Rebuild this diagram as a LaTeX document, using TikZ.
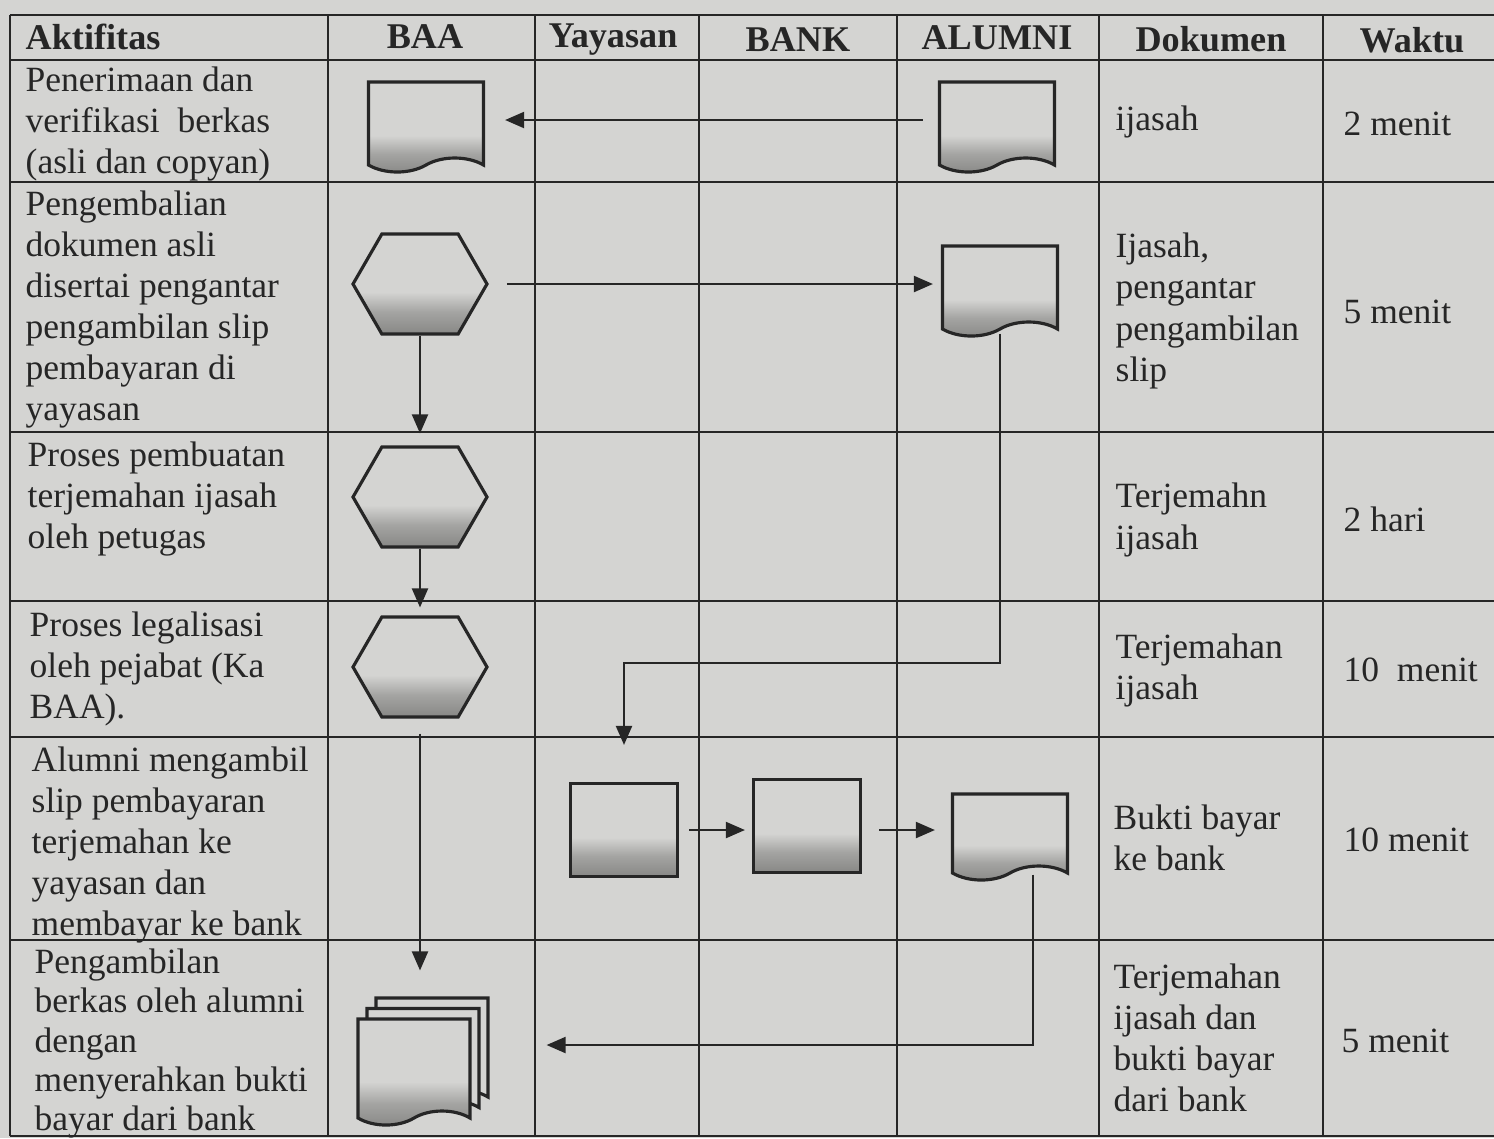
\documentclass[tikz,border=0pt]{standalone}
\usepackage{fontspec}
\setmainfont{Liberation Serif}
\usetikzlibrary{arrows.meta,shapes.symbols,shadows}

\definecolor{paper}{RGB}{212,212,210}
\definecolor{ink}{RGB}{38,38,38}
\definecolor{smudge}{RGB}{138,138,136}
\pgfdeclareverticalshading{smearshade}{100bp}{color(0bp)=(smudge); color(26bp)=(smudge);
	color(36bp)=(smudge!65!paper); color(46bp)=(paper); color(100bp)=(paper)}

\begin{document}
\begin{tikzpicture}[x=0.1mm, y=-0.1mm,
		tableline/.style={line width=0.45pt, draw=ink},
		txt/.style={font=\fontsize{10.1}{11.7}\selectfont, text=ink, align=left, inner sep=0pt},
		head/.style={font=\bfseries\fontsize{10.3}{11.7}\selectfont, text=ink, inner sep=0pt},
		smear/.style={shading=smearshade},
		docshape/.style={shape=tape, tape bend top=none, tape bend bottom=in and out,
			tape bend height=1.4mm, draw=ink, line width=0.9pt, smear,
			minimum width=11.5mm, minimum height=9mm, inner sep=0pt},
		multidoc/.style={double copy shadow={shadow xshift=0.9mm, shadow yshift=1.05mm,
			fill=paper, draw=ink, line width=0.9pt}},
		hexa/.style={shape=signal, signal to=east and west, signal pointer angle=120,
			draw=ink, line width=0.9pt, smear, minimum width=13.4mm, minimum height=10mm, inner sep=0pt},
		procbox/.style={rectangle, draw=ink, line width=0.9pt, smear,
			minimum width=10.7mm, minimum height=9.3mm, inner sep=0pt},
		flow/.style={draw=ink, line width=0.6pt, -{Triangle[length=1.9mm,width=1.6mm]}}]
	\useasboundingbox[fill=paper] (0,0) rectangle (1494,1138);
	% ---- table ----
	\foreach \x in {10,328,535,699,897,1099,1323}
		\draw[tableline] (\x,15) -- (\x,1136);
	\foreach \y in {15,60,182,432,601,737,940,1136}
		\draw[tableline] (10,\y) -- (1494,\y);
	% ---- header ----
	\node[head, anchor=west] (hAkt) at (25,37) {Aktifitas};
	\node[head] (hBaa) at (425,37) {BAA};
	\node[head] (hYay) at (613,40) {Yayasan};
	\node[head] (hBank) at (798,40) {BANK};
	\node[head] (hAlum) at (997,38) {ALUMNI};
	\node[head] (hDok) at (1211,39) {Dokumen};
	\node[head] (hWak) at (1412,40) {Waktu};
	% ---- aktifitas ----
	\node[txt, anchor=north west] (akt1) at (25,66) {Penerimaan dan\\verifikasi\ \ berkas\\(asli dan copyan)};
	\node[txt, anchor=north west] (akt2) at (25,190) {Pengembalian\\dokumen asli\\disertai pengantar\\pengambilan slip\\pembayaran di\\yayasan};
	\node[txt, anchor=north west] (akt3) at (27,441) {Proses pembuatan\\terjemahan ijasah\\oleh petugas};
	\node[txt, anchor=north west] (akt4) at (29,611) {Proses legalisasi\\oleh pejabat (Ka\\BAA).};
	\node[txt, anchor=north west] (akt5) at (31,746) {Alumni mengambil\\slip pembayaran\\terjemahan ke\\yayasan dan\\membayar ke bank};
	\node[txt, anchor=north west, font=\fontsize{10.1}{11.2}\selectfont] (akt6) at (34,948) {Pengambilan\\berkas oleh alumni\\dengan\\menyerahkan bukti\\bayar dari bank};
	% ---- dokumen ----
	\node[txt, anchor=west] (dok1) at (1115,122) {ijasah};
	\node[txt, anchor=west] (dok2) at (1115,311) {Ijasah,\\pengantar\\pengambilan\\slip};
	\node[txt, anchor=west] (dok3) at (1115,520) {Terjemahn\\ijasah};
	\node[txt, anchor=west] (dok4) at (1115,670) {Terjemahan\\ijasah};
	\node[txt, anchor=west] (dok5) at (1113,838) {Bukti bayar\\ke bank};
	\node[txt, anchor=west] (dok6) at (1113,1038) {Terjemahan\\ijasah dan\\bukti bayar\\dari bank};
	% ---- waktu ----
	\node[txt, anchor=west] (wkt1) at (1343,124) {2 menit};
	\node[txt, anchor=west] (wkt2) at (1343,312) {5 menit};
	\node[txt, anchor=west] (wkt3) at (1343,519) {2 hari};
	\node[txt, anchor=west] (wkt4) at (1343,670) {10\ \ menit};
	\node[txt, anchor=west] (wkt5) at (1343,840) {10 menit};
	\node[txt, anchor=west] (wkt6) at (1341,1041) {5 menit};
	% ---- symbols ----
	\node[docshape] (bdoc) at (426,120) {};
	\node[hexa] (hex1) at (420,284) {};
	\node[hexa] (hex2) at (420,497) {};
	\node[hexa] (hex3) at (420,667) {};
	\node[docshape, multidoc, minimum width=11.2mm, minimum height=10.6mm] (mdoc) at (414,1065) {};
	\node[docshape] (adoc1) at (997,120) {};
	\node[docshape] (adoc2) at (1000,284) {};
	\node[docshape, minimum height=8.6mm] (adoc3) at (1010,830) {};
	\node[procbox] (ybox) at (624,830) {};
	\node[procbox] (kbox) at (807,826) {};
	\coordinate (turn1) at (ybox.north |- 0,663);
	\coordinate (turn2) at (1033,1045);
	% ---- flow ----
	\draw[flow, shorten <=1.5mm, shorten >=2mm] (adoc1) -- (bdoc);
	\draw[flow, shorten <=1.8mm, shorten >=0.8mm] (hex1) -- (adoc2);
	\draw[flow, shorten >=1.2mm] (hex1) -- (hex2);
	\draw[flow, shorten >=0.8mm] (hex2) -- (hex3);
	\draw[flow, shorten <=1mm, shorten >=3.7mm] (adoc2.south) |- (turn1) -- (ybox.north);
	\draw[flow, shorten <=1mm, shorten >=0.7mm] (ybox) -- (ybox -| kbox.west);
	\draw[flow, shorten <=1.7mm, shorten >=1.6mm] (kbox.east |- adoc3) -- (adoc3);
	\draw[flow, shorten <=1.5mm, shorten >=4.7mm] (hex3) -- (hex3 |- mdoc.north);
	\draw[flow, shorten <=0.7mm, shorten >=7.5mm] (turn2 |- adoc3.south) -- (turn2) -- (turn2 -| mdoc.east);
\end{tikzpicture}
\end{document}
